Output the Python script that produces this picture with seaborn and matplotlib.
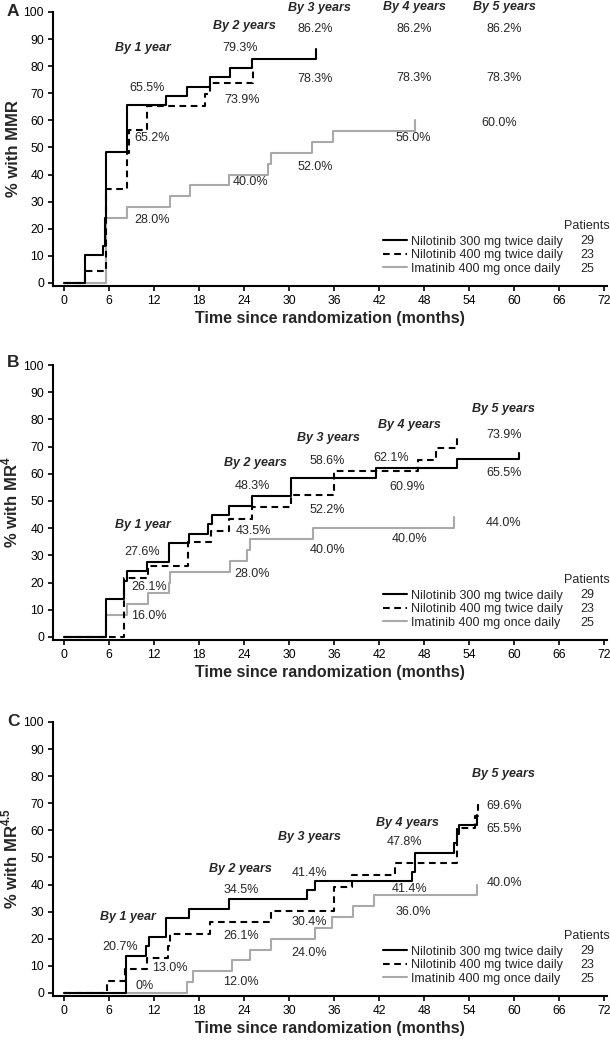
import matplotlib
matplotlib.use("Agg")
import matplotlib.pyplot as plt
import seaborn as sns
import pandas as pd
from matplotlib.lines import Line2D

# ---------------- data ----------------
arms = ["Nilotinib 300 mg twice daily", "Nilotinib 400 mg twice daily",
        "Imatinib 400 mg once daily"]
patients = [29, 23, 25]
x_ticks = list(range(0, 73, 6))
y_ticks = list(range(0, 101, 10))

# Panel A: MMR
a_n300_t = [0, 2.8, 5.2, 5.4, 5.6, 8.4, 13.6, 16.3, 19.4, 22.1, 25.0, 33.5]
a_n300_v = [0, 10.3, 13.8, 24.1, 48.3, 65.5, 69.0, 72.4, 75.9, 79.3, 82.8, 86.2]
a_n400_t = [0, 2.8, 5.5, 8.3, 8.6, 11.0, 18.8, 19.4, 25.2]
a_n400_v = [0, 4.3, 34.8, 47.8, 56.5, 65.2, 69.6, 73.9, 78.3]
a_ima_t = [0, 5.6, 8.4, 14.1, 16.8, 22.0, 27.2, 27.5, 33.0, 35.8, 46.7]
a_ima_v = [0, 24, 28, 32, 36, 40, 44, 48, 52, 56, 60]

# Panel B: MR4
b_n300_t = [0, 5.6, 7.9, 8.3, 11.0, 13.9, 16.6, 19.2, 19.7, 22.0, 25.0, 30.2, 41.6, 52.4, 60.6]
b_n300_v = [0, 13.8, 20.7, 24.1, 27.6, 34.5, 37.9, 41.4, 44.8, 48.3, 51.7, 58.6, 62.1, 65.5, 67.8]
b_n400_t = [0, 7.9, 11.1, 16.5, 19.6, 22.0, 25.0, 30.2, 35.9, 47.1, 49.5, 52.3]
b_n400_v = [0, 21.7, 26.1, 34.8, 39.1, 43.5, 47.8, 52.2, 60.9, 65.2, 69.6, 73.9]
b_ima_t = [0, 5.6, 8.3, 11.1, 13.9, 14.1, 22.1, 24.3, 24.7, 33.2, 52.0]
b_ima_v = [0, 8, 12, 16, 20, 24, 28, 32, 36, 40, 44]

# Panel C: MR4.5
c_n300_t = [0, 8.2, 10.9, 11.3, 13.6, 16.6, 21.9, 32.4, 33.4, 46.4, 46.8, 52.0, 52.4, 52.6, 55.0]
c_n300_v = [0, 13.8, 17.2, 20.7, 27.6, 31.0, 34.5, 37.9, 41.4, 44.8, 51.7, 55.2, 58.6, 62.1, 65.5]
c_n400_t = [0, 5.7, 8.1, 11.0, 13.8, 14.1, 19.4, 27.6, 35.9, 38.4, 44.1, 52.4, 54.7, 55.2]
c_n400_v = [0, 4.3, 8.7, 13.0, 17.4, 21.7, 26.1, 30.4, 39.1, 43.5, 47.8, 60.9, 65.2, 69.6]
c_ima_t = [0, 16.3, 17.1, 22.3, 24.7, 27.6, 33.4, 35.7, 38.5, 41.3, 55.0]
c_ima_v = [0, 4, 8, 12, 16, 20, 24, 28, 32, 36, 40]

# annotation texts (text, month, percent)
a_year_labels = [("By 1 year", 10.5, 86.7), ("By 2 years", 24.0, 94.8),
                 ("By 3 years", 34.0, 101.6), ("By 4 years", 46.7, 101.8),
                 ("By 5 years", 58.7, 101.8)]
a_pct_labels = [("79.3%", 23.5, 86.7), ("86.2%", 33.5, 93.7), ("86.2%", 46.7, 93.7),
                ("86.2%", 58.7, 93.7), ("78.3%", 33.5, 75.4), ("78.3%", 46.7, 75.6),
                ("78.3%", 58.7, 75.6), ("65.5%", 11.1, 72.0), ("65.2%", 11.7, 53.5),
                ("73.9%", 23.7, 67.5), ("28.0%", 11.7, 23.2), ("40.0%", 24.8, 37.3),
                ("52.0%", 33.5, 42.8), ("56.0%", 46.5, 53.5), ("60.0%", 58.0, 59.0)]
b_year_labels = [("By 1 year", 10.5, 41.2), ("By 2 years", 25.5, 64.0),
                 ("By 3 years", 35.2, 73.2), ("By 4 years", 46.0, 77.9),
                 ("By 5 years", 58.6, 83.7)]
b_pct_labels = [("27.6%", 10.4, 31.3), ("26.1%", 11.3, 18.4), ("16.0%", 11.3, 7.7),
                ("48.3%", 25.1, 55.5), ("43.5%", 25.2, 39.0), ("28.0%", 25.1, 23.2),
                ("58.6%", 35.1, 64.8), ("52.2%", 35.1, 46.7), ("40.0%", 35.1, 32.0),
                ("62.1%", 43.6, 65.9), ("60.9%", 45.7, 55.3), ("40.0%", 46.0, 35.9),
                ("73.9%", 58.7, 74.3), ("65.5%", 58.7, 60.4), ("44.0%", 58.6, 41.8)]
c_year_labels = [("By 1 year", 8.5, 28.2), ("By 2 years", 23.5, 45.6),
                 ("By 3 years", 32.7, 57.7), ("By 4 years", 45.8, 62.6),
                 ("By 5 years", 58.6, 80.7)]
c_pct_labels = [("20.7%", 7.4, 16.9), ("13.0%", 14.1, 9.1), ("0%", 10.7, 2.7),
                ("34.5%", 23.6, 38.0), ("26.1%", 23.6, 21.0), ("12.0%", 23.6, 3.9),
                ("41.4%", 32.7, 44.2), ("30.4%", 32.7, 26.3), ("24.0%", 32.7, 14.9),
                ("47.8%", 45.3, 55.8), ("41.4%", 46.0, 38.4), ("36.0%", 46.5, 30.0),
                ("69.6%", 58.7, 69.1), ("65.5%", 58.7, 60.5), ("40.0%", 58.7, 40.5)]

# ---------------- style ----------------
sns.set_style("ticks")
plt.rcParams["font.family"] = ["Liberation Sans", "DejaVu Sans"]
plt.rcParams["mathtext.fontset"] = "custom"
plt.rcParams["mathtext.rm"] = "Liberation Sans"
plt.rcParams["mathtext.bf"] = "Liberation Sans:bold"

GRAY = "#a9a9a9"
styles = [dict(color="black", linestyle="-"),
          dict(color="black", linestyle=(0, (3.2, 2.2))),
          dict(color=GRAY, linestyle="-")]
LW = 1.5

fig = plt.figure(figsize=(6.1, 10.43), dpi=100)

FW, FH = 610, 1043
ax_left = 53 / FW
ax_w = 553.5 / FW
panels = [
    ("A", r"% with MMR", (285.7, 273.7), 12,
     [(a_n300_t, a_n300_v), (a_n400_t, a_n400_v), (a_ima_t, a_ima_v)],
     a_year_labels, a_pct_labels),
    ("B", r"% with MR$^{\mathbf{4}}$", (639.7, 274.7), 363,
     [(b_n300_t, b_n300_v), (b_n400_t, b_n400_v), (b_ima_t, b_ima_v)],
     b_year_labels, b_pct_labels),
    ("C", r"% with MR$^{\mathbf{4.5}}$", (995.7, 273.7), 721,
     [(c_n300_t, c_n300_v), (c_n400_t, c_n400_v), (c_ima_t, c_ima_v)],
     c_year_labels, c_pct_labels),
]

for letter, ylab, (bot_px, h_px), letter_y, series, ylabels, plabels in panels:
    ax = fig.add_axes([ax_left, 1 - bot_px / FH, ax_w, h_px / FH])
    # draw gray first, then dashed, then solid on top
    for idx in [2, 1, 0]:
        t, v = series[idx]
        df = pd.DataFrame({"t": t, "v": v})
        sns.lineplot(data=df, x="t", y="v", ax=ax, estimator=None, sort=False,
                     drawstyle="steps-post", lw=LW, legend=False, **styles[idx])
    ax.set_xlim(-1.5, 72.3)
    ax.set_ylim(-1, 100)
    ax.set_xticks(x_ticks)
    ax.set_yticks(y_ticks)
    for s in ["top", "right"]:
        ax.spines[s].set_visible(False)
    for s in ["left", "bottom"]:
        ax.spines[s].set_linewidth(1.5)
        ax.spines[s].set_color("black")
    ax.tick_params(axis="both", length=3.5, width=1.2, labelsize=8.7,
                   colors="black", pad=3)
    ax.set_xlabel("Time since randomization (months)", fontsize=11.5,
                  fontweight="bold", labelpad=3)
    ax.set_ylabel(ylab, fontsize=12, fontweight="bold", labelpad=2)

    for txt, x, y in ylabels:
        ax.text(x, y, txt, fontsize=9, fontweight="bold", fontstyle="italic",
                ha="center", va="center")
    for txt, x, y in plabels:
        ax.text(x, y, txt, fontsize=9, ha="center", va="center")

    handles = [Line2D([], [], lw=LW, **styles[i]) for i in range(3)]
    ax.legend(handles, arms, loc="center left", bbox_to_anchor=(0.596, 0.111),
              frameon=False, fontsize=9, handlelength=1.95, handletextpad=0.3,
              borderpad=0, borderaxespad=0, labelspacing=0.12)
    ax.text(0.965, 0.217, "Patients", transform=ax.transAxes, fontsize=9,
            ha="center", va="center")
    for i, (n, yy) in enumerate(zip(patients, [0.162, 0.111, 0.060])):
        ax.text(0.965, yy, str(n), transform=ax.transAxes, fontsize=9,
                ha="center", va="center")

    fig.text(13 / FW, 1 - letter_y / FH, letter, fontsize=12.5, fontweight="bold",
             ha="center", va="center")

fig.savefig("out.png", dpi=100)
